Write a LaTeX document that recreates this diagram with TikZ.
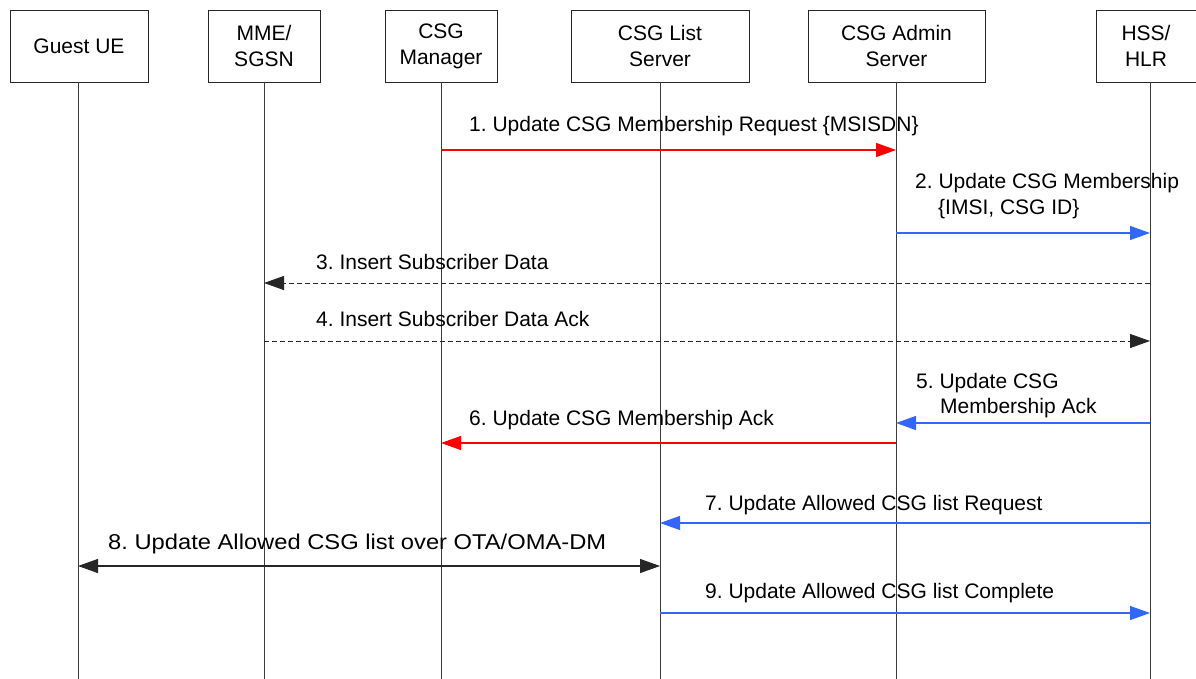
\documentclass[tikz,border=0pt]{standalone}
\usepackage{fontspec}
\setmainfont{Liberation Sans}
\usetikzlibrary{arrows.meta}
\definecolor{msgred}{RGB}{255,0,0}
\definecolor{msgblue}{RGB}{51,102,255}
\definecolor{lifegray}{RGB}{60,60,60}

\begin{document}
\frenchspacing
\begin{tikzpicture}[x=1pt,y=-1pt,
  entity/.style={draw=black!85, line width=0.9pt, minimum height=72pt, align=center,
                 font=\fontsize{21}{26}\selectfont, inner sep=0pt},
  lifeline/.style={draw=lifegray, line width=1pt},
  headtip/.style={-{Triangle[length=20pt,width=14pt]}},
  twotips/.style={{Triangle[length=20pt,width=14pt]}-{Triangle[length=20pt,width=14pt]}},
  redmsg/.style={color=msgred, line width=1.2pt, headtip},
  bluemsg/.style={color=msgblue, line width=1.2pt, headtip},
  dashmsg/.style={color=black!85, line width=1pt, dash pattern=on 5pt off 3pt, headtip},
  lbl/.style={anchor=base west, inner sep=0pt, font=\fontsize{21}{26}\selectfont},
]
\useasboundingbox (0,0) rectangle (1196,679);

% participants
\node[entity, minimum width=138pt] (ue)  at (79,46)    {Guest UE};
\node[entity, minimum width=112pt] (mme) at (264,46)   {MME/\\SGSN};
\node[entity, minimum width=112pt] (mgr) at (441,46)   {CSG\\Manager};
\node[entity, minimum width=178pt] (lst) at (660,46)   {CSG List\\Server};
\node[entity, minimum width=177pt] (adm) at (896.5,46) {CSG Admin\\Server};
\node[entity, minimum width=100pt] (hss) at (1146,46)  {HSS/\\HLR};

% lifeline anchors
\coordinate (Lue)  at (78,82);
\coordinate (Lmme) at (264,82);
\coordinate (Lmgr) at (441,82);
\coordinate (Llst) at (660,82);
\coordinate (Ladm) at (896,82);
\coordinate (Lhss) at (1150,82);

\foreach \c in {Lue,Lmme,Lmgr,Llst,Ladm,Lhss}
  \draw[lifeline] (\c) -- (\c |- 0,679);

% 1
\node[lbl] (t1) at (469,132) {1. Update CSG Membership Request \{MSISDN\}};
\draw[redmsg] (Lmgr |- 0,150) -- (Ladm |- 0,150);
% 2
\node[lbl] (t2a) at (915,189) {2. Update CSG Membership};
\node[lbl] (t2b) at (938,214.5) {\{IMSI, CSG ID\}};
\draw[bluemsg] (Ladm |- 0,233) -- (Lhss |- 0,233);
% 3
\node[lbl] (t3) at (316,269) {3. Insert Subscriber Data};
\draw[dashmsg] (Lhss |- 0,283) -- (Lmme |- 0,283);
% 4
\node[lbl] (t4) at (316,326) {4. Insert Subscriber Data Ack};
\draw[dashmsg] (Lmme |- 0,341) -- (Lhss |- 0,341);
% 5
\node[lbl] (t5a) at (916,388.5) {5. Update CSG};
\node[lbl] (t5b) at (940,413.5) {Membership Ack};
\draw[bluemsg] (Lhss |- 0,423) -- (Ladm |- 0,423);
% 6
\node[lbl] (t6) at (469,425.5) {6. Update CSG Membership Ack};
\draw[redmsg] (Ladm |- 0,443) -- (Lmgr |- 0,443);
% 7
\node[lbl] (t7) at (705,510.5) {7. Update Allowed CSG list Request};
\draw[bluemsg] (Lhss |- 0,523) -- (Llst |- 0,523);
% 8 (wider lettering)
\node[lbl] (t8) at (108,549) {\scalebox{1.13}[1.02]{8. Update Allowed CSG list over OTA/OMA-DM}};
\draw[color=black!85, line width=1.1pt, twotips] (Lue |- 0,566) -- (Llst |- 0,566);
% 9
\node[lbl] (t9) at (705,598) {9. Update Allowed CSG list Complete};
\draw[bluemsg] (Llst |- 0,613) -- (Lhss |- 0,613);
\end{tikzpicture}
\end{document}
